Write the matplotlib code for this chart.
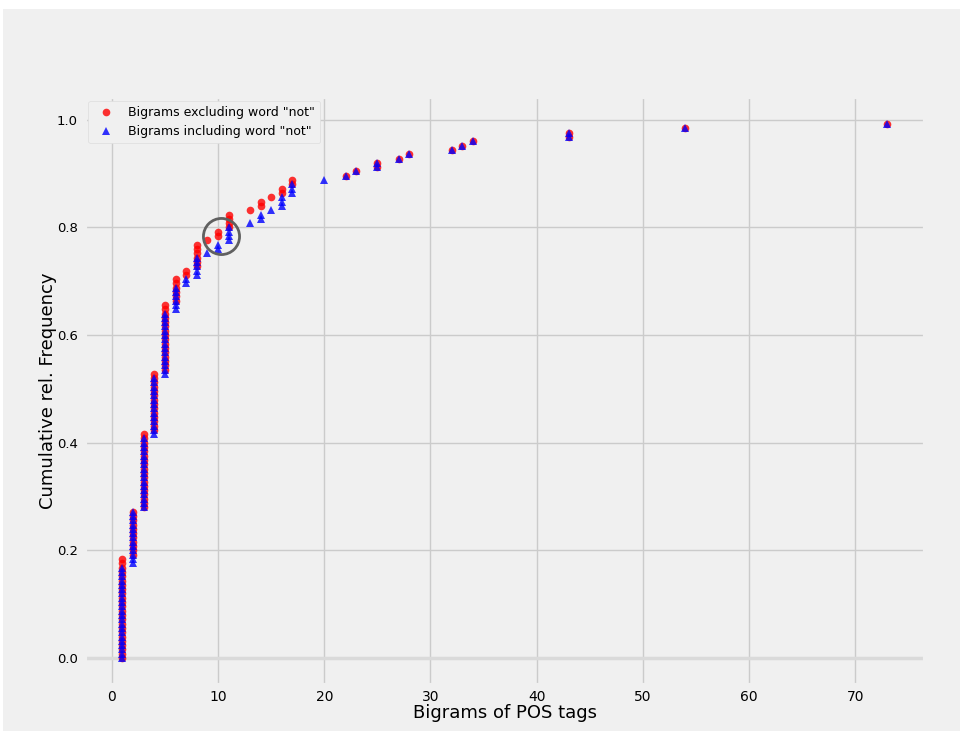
import numpy as np
import matplotlib
matplotlib.use("Agg")
import matplotlib.pyplot as plt
from matplotlib.patches import Rectangle

# ── data: how many bigrams occur with each count ─────────────────────────
excl_counts = [1, 2, 3, 4, 5, 6, 7, 8, 9, 10, 11, 13, 14, 15, 16, 17,
               22, 23, 25, 27, 28, 32, 33, 34, 43, 54, 73]
excl_n = [24, 11, 18, 14, 16, 6, 2, 6, 1, 2, 4, 1, 2, 1, 2, 2,
          1, 1, 2, 1, 1, 1, 1, 1, 2, 1, 1]

incl_counts = [1, 2, 3, 4, 5, 6, 7, 8, 9, 10, 11, 13, 14, 15, 16, 17,
               20, 22, 23, 25, 27, 28, 32, 33, 34, 43, 54, 73]
incl_n = [22, 13, 17, 14, 15, 6, 2, 5, 1, 2, 4, 1, 2, 1, 3, 3,
          1, 1, 1, 2, 1, 1, 1, 1, 1, 2, 1, 1]


def cumulative(counts, n):
    x = np.repeat(counts, n)
    y = np.arange(len(x)) / len(x)
    return x, y


x_ex, y_ex = cumulative(excl_counts, excl_n)
x_in, y_in = cumulative(incl_counts, incl_n)

# ── plot ─────────────────────────────────────────────────────────────────
plt.style.use("fivethirtyeight")
fig = plt.figure(figsize=(9.63, 7.31), dpi=100, facecolor="white")
fig.patches.append(Rectangle((3 / 963, 0), 957 / 963, 722 / 731,
                             transform=fig.transFigure, facecolor="#f0f0f0",
                             edgecolor="none", zorder=-10))
ax = fig.add_axes([0.088, 0.063, 0.8725, 0.804])
ax.set_facecolor("#f0f0f0")

ax.axhline(0, color="#dadada", lw=2.5, zorder=1)
ax.plot(x_ex, y_ex, "o", color="red", alpha=0.8, ms=5.5, mew=0,
        label='Bigrams excluding word "not"', zorder=3)
ax.plot(x_in, y_in, "^", color="blue", alpha=0.8, ms=5.5, mew=0,
        label='Bigrams including word "not"', zorder=4)
ax.plot(10.25, 0.785, "o", ms=26, mfc="none", mec="#606060", mew=2,
        zorder=5)

ax.set_xlim(-2.55, 76.55)
ax.set_ylim(-0.05, 1.042)
ax.set_xticks(range(0, 71, 10))
ax.set_yticks([0.0, 0.2, 0.4, 0.6, 0.8, 1.0])
ax.tick_params(axis="x", labelsize=10)
ax.tick_params(axis="y", labelsize=9.5, pad=5)
ax.grid(True, color="#cbcbcb", lw=1)
ax.set_xlabel("Bigrams of POS tags", fontsize=13, labelpad=0)
ax.set_ylabel("Cumulative rel. Frequency", fontsize=13)
ax.yaxis.set_label_coords(-0.033, 0.5)

leg = ax.legend(loc="upper left", fontsize=9, frameon=True,
                facecolor="#f0f0f0", edgecolor="#dddddd", framealpha=1,
                handletextpad=0.8, borderaxespad=0.3)

fig.savefig("out.png", dpi=100, facecolor="white")
